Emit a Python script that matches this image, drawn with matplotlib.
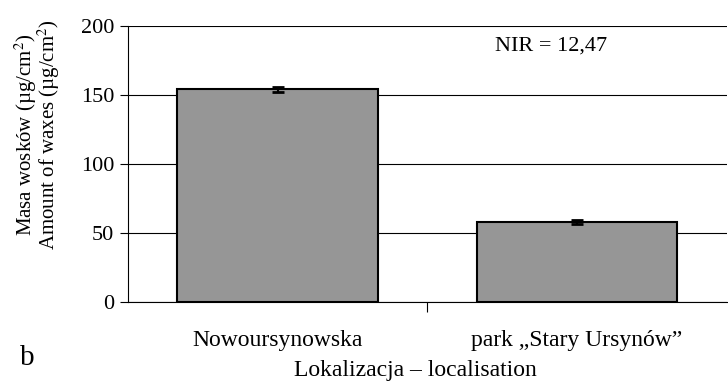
import matplotlib
matplotlib.use('Agg')
import matplotlib.pyplot as plt
import numpy as np

categories = ['Nowoursynowska', 'park \u201eStary Ursyn\u00f3w\u201d']
values = [154.0, 58.0]
errors = [1.5, 1.5]
yticks = [0, 50, 100, 150, 200]

plt.rcParams['font.family'] = ['Liberation Serif', 'DejaVu Serif']
plt.rcParams['mathtext.fontset'] = 'stix'


def main():
    fig = plt.figure(figsize=(7.28, 3.88), dpi=100)
    ax = fig.add_axes([0.176, 0.222, 0.822, 0.711])

    x = np.arange(len(categories))
    ax.bar(x, values, width=0.67, color='#969696', edgecolor='black', linewidth=1.5, zorder=3)
    ax.errorbar(x, values, yerr=errors, fmt='none', ecolor='black', elinewidth=1.5,
                capsize=4, capthick=2, zorder=4)

    ax.set_xlim(-0.5, 1.5)
    ax.set_ylim(0, 200)
    ax.set_yticks(yticks)
    ax.set_xticks([0.5])
    ax.set_xticklabels([''])
    for xi, name in zip(x, categories):
        ax.text(xi, -0.14, name, transform=ax.get_xaxis_transform(), ha='center', va='center', fontsize=17)

    ax.yaxis.grid(True, color='black', linewidth=0.8)
    ax.set_axisbelow(True)
    for s in ['top', 'right']:
        ax.spines[s].set_visible(False)
    ax.tick_params(axis='y', direction='out', length=6, labelsize=16, pad=4)
    ax.tick_params(axis='x', direction='out', length=7)

    ax.set_ylabel('Masa wosk\u00f3w (\u00b5g/cm$^{2}$)\nAmount of waxes (\u00b5g/cm$^{2}$)',
                  fontsize=15, linespacing=0.85)
    ax.yaxis.set_label_coords(-0.11, 0.605)
    fig.text(0.571, 0.045, 'Lokalizacja \u2013 localisation', ha='center', va='center', fontsize=17)
    fig.text(0.037, 0.078, 'b', ha='center', va='center', fontsize=21)
    ax.text(0.706, 0.928, 'NIR = 12,47', transform=ax.transAxes, ha='center', va='center', fontsize=16)

    plt.savefig('out.png', dpi=100)


if __name__ == '__main__':
    main()
